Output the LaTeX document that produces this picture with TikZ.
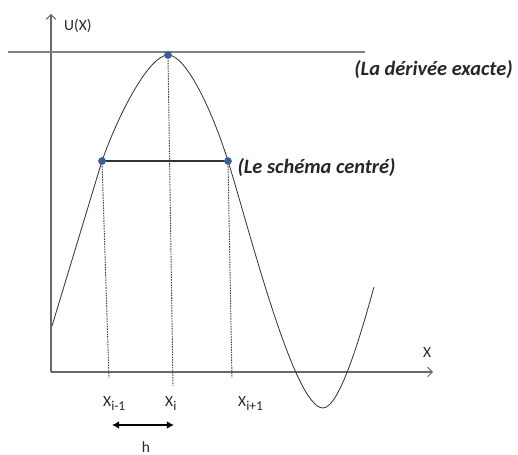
\documentclass[tikz,border=0pt]{standalone}
\usepackage{fontspec}
\setmainfont{Carlito}
\usetikzlibrary{arrows.meta}
\definecolor{punktblau}{RGB}{58,95,150}
\definecolor{achsgrau}{RGB}{105,105,105}
\newcommand{\unten}[1]{\raisebox{-3pt}{\fontsize{11.5}{13}\selectfont #1}}
\tikzset{
    achse/.style={achsgrau, line width=0.9pt, -{Straight Barb[length=4pt,width=8pt]}},
    kurve/.style={black!80, line width=0.7pt},
    lot/.style={black!75, line width=0.8pt, dash pattern=on 1.3pt off 0.9pt},
    punkt/.style={punktblau},
    anm/.style={text=black!85, font=\bfseries\itshape\fontsize{17.4}{20}\selectfont},
    lbl/.style={text=black!85, inner sep=0pt, font=\fontsize{13.2}{15}\selectfont}
}

\begin{document}
\begin{tikzpicture}[x=0.03cm, y=-0.03cm]
\useasboundingbox (0,0) rectangle (518,455);

% Punkte
\coordinate (O) at (51,372);
\coordinate (Yend) at (51,14);
\coordinate (Xend) at (433,372);
\coordinate (Pl) at (102,161);
\coordinate (Pm) at (168,55);
\coordinate (Pr) at (228,161);
\coordinate (Fl) at (109,378);
\coordinate (Fm) at (173,386);
\coordinate (Fr) at (232,378);
\coordinate (T1) at (8,52);
\coordinate (T2) at (365,52);
\coordinate (S) at (52,326);
\coordinate (M) at (323,408);
\coordinate (E) at (374,287);

% Achsen
\draw[achse] (O) -- (Yend);
\draw[achse] (O) -- (Xend);

% Tangente
\draw[gray, line width=1pt] (T1) -- (T2);

% Lote
\draw[lot] (Pl) -- (Fl);
\draw[lot] (Pm) -- (Fm);
\draw[lot] (Pr) -- (Fr);

% Kurve
\draw[kurve] (S) -- (Pl)
    .. controls (120,110) and (150,55) .. (Pm)
    .. controls (186,55) and (212,110) .. (Pr)
    .. controls (249,228) and (294,408) .. (M)
    .. controls (340,408) and (362,330) .. (E);

% Sehne
\draw[black!80, line width=0.9pt] (Pl) -- (Pr);

% Eckpunkte
\fill[punkt] (Pl) circle (3.3pt);
\fill[punkt] (Pm) circle (3.3pt);
\fill[punkt] (Pr) circle (3.3pt);

% Schrittweite
\coordinate (H1) at (112,425);
\coordinate (H2) at (174,425);
\draw[line width=1.3pt, {Latex[length=6pt,width=6.5pt]}-{Latex[length=6pt,width=6.5pt]}] (H1) -- (H2);

% Beschriftung
\node[lbl, anchor=base west] (uLbl) at (64,31) {U(X)};
\node[lbl, anchor=base west] (xLbl) at (423,358) {X};
\node[lbl, anchor=base west] (xlLbl) at (103,407) {X\unten{i-1}};
\node[lbl, anchor=base west] (xmLbl) at (165,407) {X\unten{i}};
\node[lbl, anchor=base west] (xrLbl) at (238,407) {X\unten{i+1}};
\node[lbl] (hLbl) at (146,447) {h};
\node[anm] (exakt) at (433.5,69) {(La dérivée exacte)};
\node[anm] (zentr) at (316.5,167) {(Le schéma centré)};
\end{tikzpicture}
\end{document}
